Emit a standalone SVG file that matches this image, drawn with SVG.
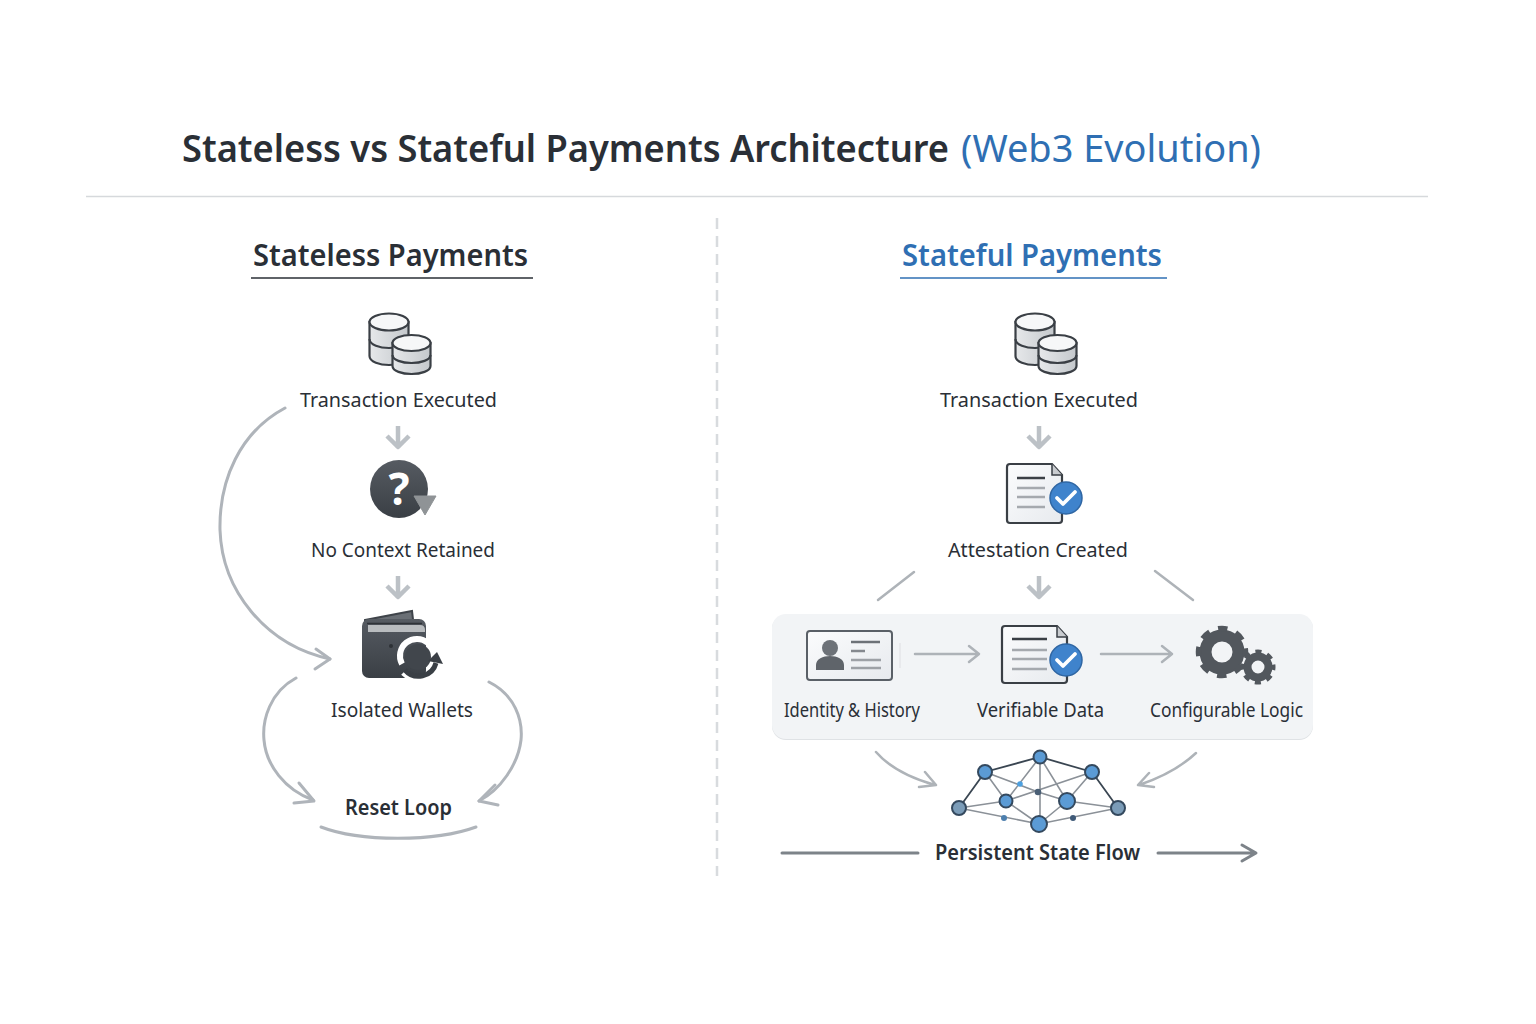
<svg xmlns="http://www.w3.org/2000/svg" xmlns:xlink="http://www.w3.org/1999/xlink" width="1536" height="1024" viewBox="0 0 1536 1024">
<style>
text{font-family:"Noto Sans","Open Sans","Liberation Sans",sans-serif;fill:#2a2f36}
.title{font-size:38px;font-weight:600}
.head{font-size:31px;font-weight:600}
.lab{font-size:20px}
.labb{font-size:21px;font-weight:600}
.blue{fill:#2f6fb3}
.c{fill:none;stroke:#afb4ba;stroke-width:3;stroke-linecap:round;stroke-linejoin:round}
.t{fill:none;stroke:#aeb3b8;stroke-width:2.5;stroke-linecap:round;stroke-linejoin:round}
.d{fill:none;stroke:#bcc1c6;stroke-width:4.5;stroke-linejoin:round}
.p{fill:none;stroke:#7d8389;stroke-width:3;stroke-linecap:round;stroke-linejoin:round}
.nd{stroke:#3a4652;stroke-width:1.8;fill:none}
.ng{stroke:#8b9198;stroke-width:1.6;fill:none}
.nb{fill:#5b9bd5;stroke:#34495e;stroke-width:2}
.ngn{fill:#7b9cb8;stroke:#34495e;stroke-width:2}
.dbs{stroke:#3a3f45;stroke-width:2.200;fill:url(#cyl)}
.dbt{stroke:#3a3f45;stroke-width:2.200;fill:#f6f7f8}
.dbl{stroke:#3a3f45;stroke-width:2.200;fill:none}
</style>
<defs>
<linearGradient id="cyl" x1="0" x2="1" y1="0" y2="0"><stop offset="0" stop-color="#e6e8ea"/><stop offset="1" stop-color="#c4c8cc"/></linearGradient>
<linearGradient id="paper" x1="0" x2="1" y1="0" y2="1"><stop offset="0" stop-color="#fbfcfd"/><stop offset="1" stop-color="#e7eaee"/></linearGradient>
<linearGradient id="dark" x1="0" x2="0" y1="0" y2="1"><stop offset="0" stop-color="#565b62"/><stop offset="1" stop-color="#3a3f45"/></linearGradient>
<g id="db">
<path class="dbs" d="M369.500 322V356C369.500 362 380 365 389 365C398 365 408.500 362 408.500 356V322Z"/>
<path class="dbl" d="M369.500 339C369.500 345 380 348 389 348C398 348 408.500 345 408.500 339"/>
<ellipse class="dbt" cx="389" cy="322" rx="19.500" ry="8.500"/>
<path class="dbs" d="M392.500 343V366C392.500 371 402 374 411.500 374C421 374 430.500 371 430.500 366V343Z"/>
<path class="dbl" d="M392.500 355C392.500 360 402 363 411.500 363C421 363 430.500 360 430.500 355"/>
<ellipse class="dbt" cx="411.500" cy="343" rx="19" ry="8"/>
</g>
<g id="check">
<circle r="16" fill="#3f83cc" stroke="#2f66a3" stroke-width="1.500"/>
<path d="M-9 0L-3 6L9 -6" fill="none" stroke="#fff" stroke-width="3.800" stroke-linecap="round" stroke-linejoin="round"/>
</g>
</defs>
<rect width="1536" height="1024" fill="#fff"/>

<g id="header">
<text class="title" x="182" y="162" textLength="767" lengthAdjust="spacingAndGlyphs">Stateless vs Stateful Payments Architecture</text>
<text class="title blue" x="961" y="162" style="font-weight:400" textLength="300" lengthAdjust="spacingAndGlyphs">(Web3 Evolution)</text>
<path d="M86 196.500H1428" stroke="#d6d9dc" stroke-width="1.500"/>
<path d="M717 218V876" stroke="#d8dbde" stroke-width="2.500" stroke-dasharray="11 7"/>
</g>

<g id="stateless-head">
<text class="head" x="253" y="266" textLength="275" lengthAdjust="spacingAndGlyphs">Stateless Payments</text>
<path d="M251 278H533" stroke="#2a2f36" stroke-width="1.500"/>
</g>
<g id="stateful-head">
<text class="head blue" x="902" y="266" textLength="260" lengthAdjust="spacingAndGlyphs">Stateful Payments</text>
<path d="M900 278H1167" stroke="#2f6fb3" stroke-width="1.500"/>
</g>

<g id="panel">
<rect x="772" y="615" width="541" height="125" rx="14" fill="#dfe2e5"/>
<rect x="772" y="614" width="541" height="125" rx="14" fill="#f2f4f6"/>
</g>

<g id="connectors">
<path class="c" d="M285 408C240 432 219 480 220 530C222 590 265 645 330 659"/>
<path class="c" d="M316 649L330 659L315 669"/>
<path class="c" d="M296 678C270 692 262 720 264 740C266 765 285 790 313 800"/>
<path class="c" d="M299 783L314 801L294 803"/>
<path class="c" d="M489 682C515 695 523 720 521 740C518 765 500 790 479 801"/>
<path class="c" d="M495 785L479 801L498 805"/>
<path class="c" d="M321 827C360 842 435 842 476 827"/>
<path class="d" d="M398 426V447M387 436L398 447L409 436"/>
<path class="d" d="M398 576V597M387 586L398 597L409 586"/>
<path class="d" d="M1039 426V447M1028 436L1039 447L1050 436"/>
<path class="d" d="M1039 576V597M1028 586L1039 597L1050 586"/>
<path class="t" d="M914 572L878 600"/>
<path class="t" d="M1155 571L1193 600"/>
<path class="t" d="M915 654H978M969 646L979 654L969 662"/>
<path class="t" d="M1101 654H1172M1162 646L1172 654L1162 662"/>
<path class="t" d="M876 752C890 768 910 778 935 785M925 772L936 785L919 787"/>
<path class="t" d="M1196 753C1180 768 1160 778 1139 785M1149 773L1138 785L1154 787"/>
<path class="p" d="M782 853H918"/>
<path class="p" d="M1158 853H1255M1242 845L1256 853L1242 861"/>
</g>

<g id="l-tx"><use xlink:href="#db" href="#db"/><text class="lab" x="300" y="407" textLength="197" lengthAdjust="spacingAndGlyphs">Transaction Executed</text></g>

<g id="l-noctx">
<circle cx="399" cy="489" r="29" fill="url(#dark)"/>
<path d="M414 496H436L425 515Z" fill="#8f9396" stroke="#8f9396" stroke-width="1"/>
<text x="399" y="505" font-size="44" font-weight="700" text-anchor="middle" style="fill:#fff">?</text>
<text class="lab" x="311" y="557" textLength="184" lengthAdjust="spacingAndGlyphs">No Context Retained</text>
</g>

<g id="l-wallet">
<path d="M365 620L412 611L414 628H365Z" fill="#6a6f75" stroke="#3f444a" stroke-width="2"/>
<rect x="362" y="619" width="64" height="59" rx="7" fill="url(#dark)"/>
<path d="M368 625H420Q425 625 425 630V632H368Z" fill="#b9bcbf"/>
<path d="M367 623.500H422" stroke="#2f3338" stroke-width="1.500" fill="none"/>
<circle cx="391" cy="646" r="2" fill="#2d3136"/>
<path d="M402 664A17 17 0 0 1 428 643" fill="none" stroke="#fff" stroke-width="6"/>
<circle cx="418" cy="657" r="13" fill="#41464c"/>
<path d="M404 672A22 22 0 0 0 440 664" fill="none" stroke="#fff" stroke-width="8"/>
<path d="M405 670A18 18 0 0 0 436 663" fill="none" stroke="#3a3f45" stroke-width="5"/>
<path d="M428 661L437 652L443 664Z" fill="#3a3f45"/>
<text class="lab" x="331" y="717" textLength="142" lengthAdjust="spacingAndGlyphs">Isolated Wallets</text>
</g>

<g id="l-reset"><text class="labb" x="345" y="815" textLength="107" lengthAdjust="spacingAndGlyphs">Reset Loop</text></g>

<g id="r-tx"><use xlink:href="#db" href="#db" x="646"/><text class="lab" x="940" y="407" textLength="198" lengthAdjust="spacingAndGlyphs">Transaction Executed</text></g>

<g id="r-att">
<path d="M1010 464H1052L1062 475V520Q1062 523 1059 523H1010Q1007 523 1007 520V467Q1007 464 1010 464Z" fill="url(#paper)" stroke="#3a3f45" stroke-width="2.200"/>
<path d="M1052 464V475H1062" fill="#c9ccd0" stroke="#3a3f45" stroke-width="1.500"/>
<path d="M1017 478H1045" stroke="#3a3f45" stroke-width="2.500"/>
<path d="M1017 488H1045M1017 497H1045M1017 507H1045" stroke="#a5a9ae" stroke-width="2.500"/>
<use xlink:href="#check" href="#check" x="1066" y="498"/>
<text class="lab" x="948" y="557" textLength="180" lengthAdjust="spacingAndGlyphs">Attestation Created</text>
</g>

<g id="r-identity">
<rect x="807" y="631" width="85" height="49" rx="3" fill="url(#paper)" stroke="#5a6067" stroke-width="2"/>
<circle cx="830" cy="648" r="8" fill="#6d7278"/>
<path d="M816 670V665C816 659 823 656 830 656C837 656 844 659 844 665V670Z" fill="#5f646a"/>
<path d="M851 642H880" stroke="#6d7278" stroke-width="2.500"/>
<path d="M851 651H865" stroke="#85898f" stroke-width="2.500"/>
<path d="M851 660H881M851 668H881" stroke="#9da1a6" stroke-width="2.500"/>
<path d="M900 643V668" stroke="#e4e6e9" stroke-width="1.500"/>
<text class="lab" x="784" y="717" style="font-size:19px" textLength="136" lengthAdjust="spacingAndGlyphs">Identity &amp; History</text>
</g>

<g id="r-data">
<path d="M1005 626H1057L1067 637V680Q1067 683 1064 683H1005Q1002 683 1002 680V629Q1002 626 1005 626Z" fill="url(#paper)" stroke="#3a3f45" stroke-width="2.200"/>
<path d="M1057 626V637H1067" fill="#c9ccd0" stroke="#3a3f45" stroke-width="1.500"/>
<path d="M1012 639H1047" stroke="#3a3f45" stroke-width="2.500"/>
<path d="M1012 650H1047M1012 659H1047M1012 669H1047" stroke="#a5a9ae" stroke-width="2.500"/>
<use xlink:href="#check" href="#check" x="1066" y="660"/>
<text class="lab" x="977" y="717" style="font-size:19px" textLength="127" lengthAdjust="spacingAndGlyphs">Verifiable Data</text>
</g>

<g id="r-logic">
<circle cx="1222" cy="652" r="16.500" fill="none" stroke="#52575d" stroke-width="12"/>
<circle cx="1222" cy="652" r="23.500" fill="none" stroke="#52575d" stroke-width="5.500" stroke-dasharray="9.460 9" stroke-dashoffset="4.730"/>
<circle cx="1258" cy="667" r="10.500" fill="none" stroke="#52575d" stroke-width="8"/>
<circle cx="1258" cy="667" r="15.500" fill="none" stroke="#52575d" stroke-width="4" stroke-dasharray="6.170 6" stroke-dashoffset="3.085"/>
<text class="lab" x="1150" y="717" style="font-size:19px" textLength="153" lengthAdjust="spacingAndGlyphs">Configurable Logic</text>
</g>

<g id="r-net">
<path class="nd" d="M959 808L985 772L1040 757L1092 772L1118 808"/>
<path class="ng" d="M985 772L1006 801M985 772L1038 792L1067 801M1040 757L1006 801M1040 757V824M1040 757L1067 801M1092 772L1067 801M1092 772L1006 801M1006 801L1039 824M1067 801L1039 824M1006 801L959 808M1067 801L1118 808M959 808L1039 824L1118 808"/>
<circle class="nb" cx="1040" cy="757" r="6.500"/>
<circle class="nb" cx="985" cy="772" r="7"/>
<circle class="nb" cx="1092" cy="772" r="7"/>
<circle class="ngn" cx="959" cy="808" r="7"/>
<circle class="ngn" cx="1118" cy="808" r="7"/>
<circle class="nb" cx="1006" cy="801" r="6.500"/>
<circle class="nb" cx="1067" cy="801" r="8"/>
<circle class="nb" cx="1039" cy="824" r="8"/>
<circle cx="1038" cy="792" r="3.300" fill="#4a5f75"/>
<circle cx="1020" cy="784" r="2.800" fill="#4da0e0"/>
<circle cx="1004" cy="818" r="3" fill="#4d7fae"/>
<circle cx="1073" cy="818" r="3" fill="#3f5a78"/>
</g>

<g id="r-flow"><text class="labb" x="935" y="860" textLength="205" lengthAdjust="spacingAndGlyphs">Persistent State Flow</text></g>
</svg>
